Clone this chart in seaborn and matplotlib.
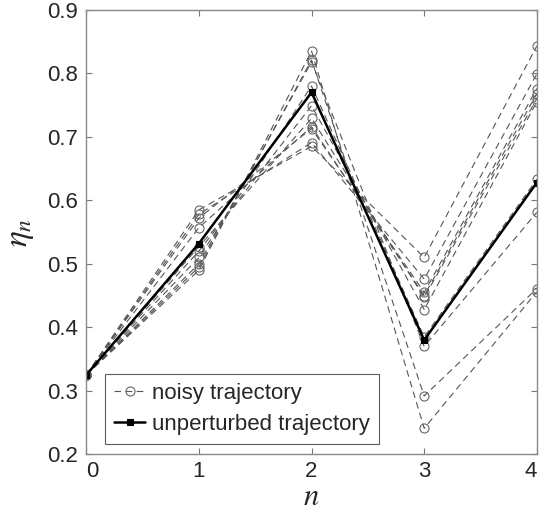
import matplotlib
matplotlib.use('agg')
import matplotlib.pyplot as plt
import seaborn as sns
import pandas as pd

sns.set_style("ticks")
plt.rcParams['font.family'] = ['Liberation Sans', 'DejaVu Sans']
plt.rcParams['mathtext.fontset'] = 'stix'

steps = [0, 1, 2, 3, 4]
# noisy trajectories, values at n = 0..4
noisy = [
    [0.325, 0.585, 0.685, 0.510, 0.843],
    [0.325, 0.578, 0.691, 0.476, 0.799],
    [0.325, 0.572, 0.713, 0.455, 0.776],
    [0.325, 0.557, 0.716, 0.450, 0.768],
    [0.325, 0.527, 0.729, 0.447, 0.760],
    [0.325, 0.520, 0.749, 0.428, 0.755],
    [0.325, 0.510, 0.780, 0.385, 0.633],
    [0.325, 0.500, 0.818, 0.370, 0.581],
    [0.325, 0.495, 0.821, 0.292, 0.461],
    [0.325, 0.490, 0.835, 0.241, 0.456],
]
unperturbed = [0.325, 0.532, 0.770, 0.380, 0.628]

fig = plt.figure(figsize=(5.39, 5.14), dpi=100)
ax = fig.add_axes([0.160, 0.116, 0.836, 0.865])

for i, traj in enumerate(noisy):
    sns.lineplot(x=steps, y=traj, ax=ax, color='#555555', linestyle=(0, (6, 4)),
                 linewidth=0.8, marker='o', markersize=6.5, markerfacecolor='none',
                 markeredgecolor='#666666', markeredgewidth=0.8,
                 label='noisy trajectory' if i == 0 else None)
sns.lineplot(x=steps, y=unperturbed, ax=ax, color='black', linewidth=1.8,
             marker='s', markersize=5, markeredgecolor='black',
             markeredgewidth=0.8, label='unperturbed trajectory')

ax.set_xlim(0, 4)
ax.set_ylim(0.2, 0.9)
ax.set_xticks(steps)
ax.set_yticks([0.2, 0.3, 0.4, 0.5, 0.6, 0.7, 0.8, 0.9])
ax.set_yticklabels(['0.2', '0.3', '0.4', '0.5', '0.6', '0.7', '0.8', '0.9'])
ax.tick_params(direction='in', top=True, right=True, labelsize=16, length=4,
               color='#777777', pad=6)
ax.tick_params(axis='x', pad=5)
xlabels = ax.get_xticklabels()
xlabels[0].set_ha('left')
xlabels[-1].set_ha('right')
for sp in ax.spines.values():
    sp.set_color('#888888')
    sp.set_linewidth(1.0)

ax.set_xlabel('$n$', fontsize=22, labelpad=0)
ax.set_ylabel(r'$\eta_n$', fontsize=24, labelpad=8)

leg = ax.legend(loc='lower left', bbox_to_anchor=(0.018, -0.002), fontsize=16,
                frameon=True, fancybox=False, handlelength=1.4,
                handletextpad=0.3, borderpad=0.4, labelspacing=0.45)
leg.get_frame().set_edgecolor('#333333')
leg.get_frame().set_linewidth(0.8)

fig.savefig('out.png', dpi=100)
plt.close()
